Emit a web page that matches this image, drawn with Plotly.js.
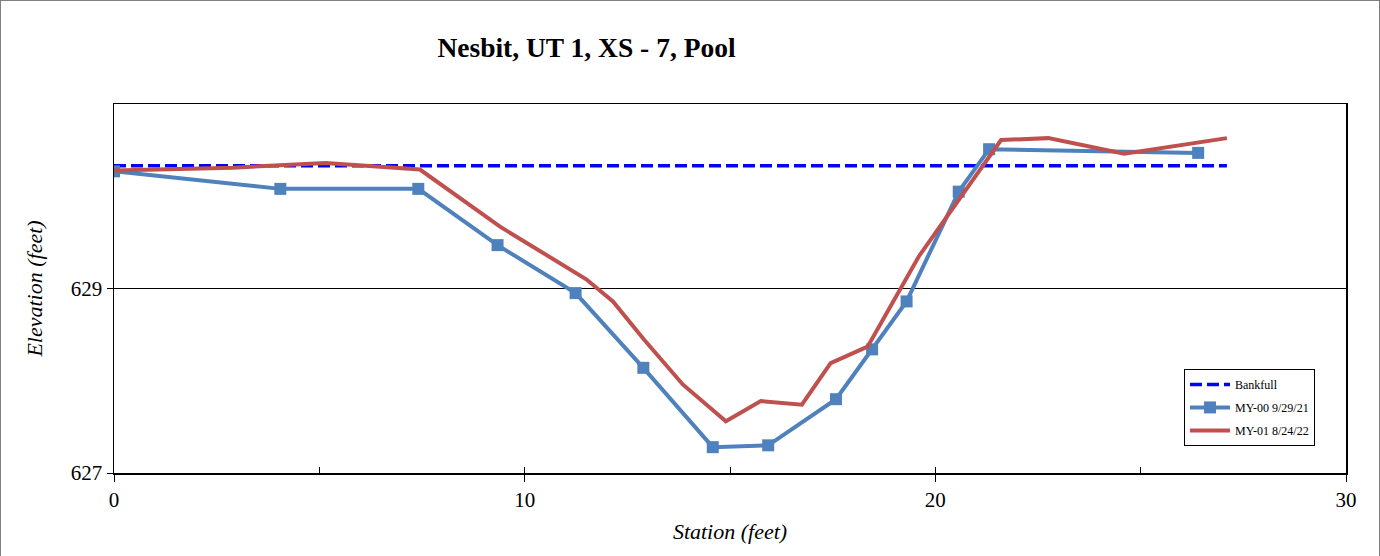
<!DOCTYPE html>
<html>
<head>
<meta charset="utf-8">
<script src="https://cdn.plot.ly/plotly-3.0.1.min.js"></script>
<style>
html,body{margin:0;padding:0;overflow:hidden;background:#fff;}
#frame{position:absolute;left:0;top:0;width:1378px;height:600px;border:1px solid #7f7f7f;}
#chart{position:absolute;left:0;top:0;width:1380px;height:556px;}
</style>
</head>
<body>
<div id="frame"></div>
<div id="chart"></div>
<script>
// Data
const bankfullStation = [0, 27.1];
const bankfullElev = [630.33, 630.33];

const my00Station = [0, 4.05, 7.41, 9.34, 11.24, 12.89, 14.58, 15.93, 17.58, 18.46, 19.30, 20.57, 21.31, 26.40];
const my00Elev = [630.27, 630.08, 630.08, 629.47, 628.95, 628.14, 627.28, 627.30, 627.80, 628.34, 628.86, 630.05, 630.51, 630.47];

const my01Station = [0, 2.9, 5.15, 7.45, 9.4, 11.5, 12.15, 12.9, 13.85, 14.9, 15.75, 16.75, 17.45, 18.35, 19.6, 21.6, 22.75, 24.6, 27.1];
const my01Elev = [630.28, 630.31, 630.36, 630.29, 629.67, 629.10, 628.86, 628.45, 627.96, 627.56, 627.78, 627.74, 628.19, 628.37, 629.35, 630.61, 630.63, 630.46, 630.63];

const xTicks = [0, 10, 20, 30];
const yTicks = [627, 629];

const serif = '"Liberation Serif", "Times New Roman", serif';

const traces = [
  {x: bankfullStation, y: bankfullElev, name: 'Bankfull', mode: 'lines', legendgroup: 'a',
   line: {color: '#0000FF', width: 3.5, dash: '12px,5px'}},
  {x: my00Station, y: my00Elev, name: 'MY-00 9/29/21', mode: 'lines+markers', legendgroup: 'b',
   line: {color: '#4F81BD', width: 4}, marker: {symbol: 'square', size: 12, color: '#4F81BD'}},
  {x: my01Station, y: my01Elev, name: 'MY-01 8/24/22', mode: 'lines', legendgroup: 'c',
   line: {color: '#C0504D', width: 4}},
  {x: [0], y: [627], xaxis: 'x2', mode: 'markers', marker: {opacity: 0}, showlegend: false, hoverinfo: 'skip'}
];

const layout = {
  width: 1380, height: 556,
  paper_bgcolor: 'rgba(0,0,0,0)', plot_bgcolor: '#fff',
  margin: {l: 114, r: 34, t: 104, b: 83},
  font: {family: serif, color: '#000', size: 20},
  title: {text: '<b>Nesbit, UT 1, XS - 7, Pool</b>', xref: 'container', x: 0.425, xanchor: 'center',
          yref: 'container', y: 0.915, yanchor: 'middle', font: {family: serif, size: 27.5, color: '#000'}},
  xaxis: {range: [0, 30], tickvals: xTicks, ticktext: xTicks.map(String), ticks: 'outside', ticklen: 7,
          tickcolor: '#000', tickwidth: 1, showline: true, linecolor: '#000', linewidth: 1.5, mirror: true,
          showgrid: false, zeroline: false, tickfont: {family: serif, size: 21},
          title: {text: '<i>Station (feet)</i>', font: {family: serif, size: 22}, standoff: 13}},
  xaxis2: {range: [0, 30], overlaying: 'x', anchor: 'y', side: 'bottom', dtick: 5, tick0: 0, ticks: 'inside',
           ticklen: 6, tickcolor: '#000', tickwidth: 1, showticklabels: false, showgrid: false,
           zeroline: false, showline: false},
  yaxis: {range: [627, 631], tickvals: yTicks, ticktext: yTicks.map(String), ticks: 'outside', ticklen: 6,
          tickcolor: '#000', tickwidth: 1, showline: true, linecolor: '#000', linewidth: 1.5, mirror: true,
          showgrid: true, gridcolor: '#000', gridwidth: 1, zeroline: false, tickfont: {family: serif, size: 21},
          title: {text: '<i>Elevation (feet)</i>', font: {family: serif, size: 22}, standoff: 22}},
  legend: {x: 0.8685, y: 0.282, xanchor: 'left', yanchor: 'top', bgcolor: '#fff',
           bordercolor: '#000', borderwidth: 1, font: {family: serif, size: 12, color: '#000'},
           traceorder: 'grouped', tracegroupgap: 4, itemwidth: 40},
  showlegend: true
};

Plotly.newPlot('chart', traces, layout, {displayModeBar: false, staticPlot: true});
</script>
</body>
</html>
